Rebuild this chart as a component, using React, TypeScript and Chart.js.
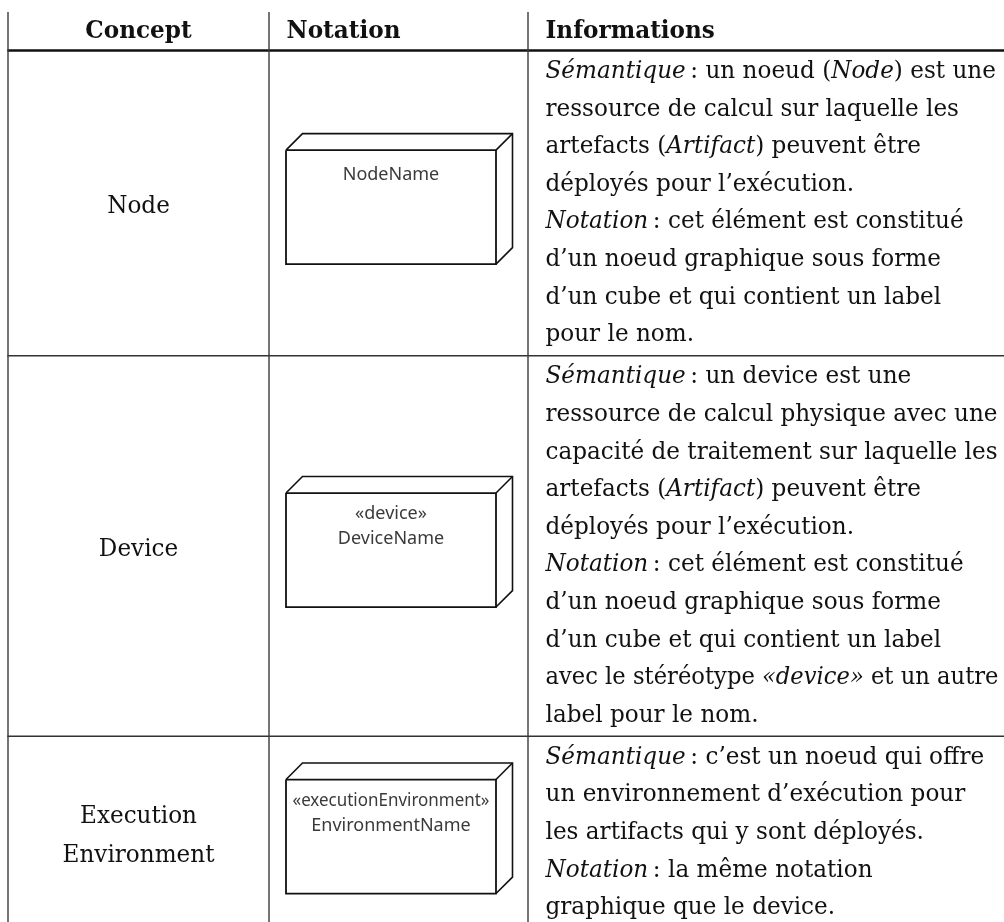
import React, { useEffect, useRef } from "react";
import { Chart, registerables } from "chart.js";

Chart.register(...registerables);

// ---------- data ----------
const headers = ["Concept", "Notation", "Informations"];
const concepts = [["Node"], ["Device"], ["Execution", "Environment"]];
const notationLabels = [
  ["NodeName"],
  ["«device»", "DeviceName"],
  ["«executionEnvironment»", "EnvironmentName"],
];
const infoNode = [
  "*Sémantique*\u202F: un noeud (*Node*) est une",
  "ressource de calcul sur laquelle les",
  "artefacts (*Artifact*) peuvent être",
  "déployés pour l’exécution.",
  "*Notation*\u202F: cet élément est constitué",
  "d’un noeud graphique sous forme",
  "d’un cube et qui contient un label",
  "pour le nom.",
];
const infoDevice = [
  "*Sémantique*\u202F: un device est une",
  "ressource de calcul physique avec une",
  "capacité de traitement sur laquelle les",
  "artefacts (*Artifact*) peuvent être",
  "déployés pour l’exécution.",
  "*Notation*\u202F: cet élément est constitué",
  "d’un noeud graphique sous forme",
  "d’un cube et qui contient un label",
  "avec le stéréotype *«device»* et un autre",
  "label pour le nom.",
];
const infoExec = [
  "*Sémantique*\u202F: c’est un noeud qui offre",
  "un environnement d’exécution pour",
  "les artifacts qui y sont déployés.",
  "*Notation*\u202F: la même notation",
  "graphique que le device.",
];
const infoRows = [infoNode, infoDevice, infoExec];

// ---------- layout ----------
const W = 1004;
const H = 922;
const colEdges = [8, 269, 528];
const tableTop = 12;
const headerRule = 50.5;
const lineH = 37.6;
const firstBase = 27.5;
const rowPad = 4.5;
const textPadL = 17.5;
const bodySize = 25;
const refLine = "ressource de calcul physique avec une";
const refWidth = 452;
const maxInfoWidth = 453;
const serif = '"DejaVu Serif"';
const sans = '"Noto Sans"';

const rows = (() => {
  let y = headerRule;
  return infoRows.map((lines) => {
    const top = y;
    const bottom = y + lines.length * lineH + rowPad;
    y = bottom;
    return { top, bottom, center: (top + bottom) / 2 };
  });
})();

const cube = { left: 286, width: 210, height: 114, depth: 16.5, offset: -53 };

function seg(points: { x: number; y: number }[], width: number, color: string) {
  return {
    type: "scatter" as const,
    data: points,
    showLine: true,
    borderColor: color,
    backgroundColor: color,
    borderWidth: width,
    pointRadius: 0,
    pointHoverRadius: 0,
    tension: 0,
    borderCapStyle: "butt" as const,
    borderJoinStyle: "miter" as const,
  };
}

function buildDatasets() {
  const ds: any[] = [];
  colEdges.forEach((x) => ds.push(seg([{ x, y: tableTop }, { x, y: H }], 1.4, "#3a3a3a")));
  ds.push(seg([{ x: colEdges[0] - 0.7, y: headerRule }, { x: W, y: headerRule }], 2.6, "#111"));
  rows.slice(0, -1).forEach((r) =>
    ds.push(seg([{ x: colEdges[0] - 0.7, y: r.bottom }, { x: W, y: r.bottom }], 1.6, "#333"))
  );
  rows.forEach((r) => {
    const L = cube.left;
    const R = L + cube.width;
    const T = r.center + cube.offset;
    const B = T + cube.height;
    const d = cube.depth;
    const c = "#111";
    ds.push(seg([{ x: L, y: T }, { x: R, y: T }, { x: R, y: B }, { x: L, y: B }, { x: L, y: T }], 1.8, c));
    ds.push(seg([{ x: L, y: T }, { x: L + d, y: T - d }, { x: R + d, y: T - d }, { x: R + d, y: B - d }, { x: R, y: B }], 1.6, c));
    ds.push(seg([{ x: R, y: T }, { x: R + d, y: T - d }], 1.6, c));
  });
  return ds;
}

function parseSegments(line: string) {
  return line.split("*").map((t, i) => ({ text: t, italic: i % 2 === 1 }));
}

const textPlugin = {
  id: "tableText",
  afterDatasetsDraw(chart: any) {
    const ctx: CanvasRenderingContext2D = chart.ctx;
    const xs = chart.scales.x;
    const ys = chart.scales.y;
    const px = (v: number) => xs.getPixelForValue(v);
    const py = (v: number) => ys.getPixelForValue(v);

    ctx.save();
    ctx.font = `${bodySize}px ${serif}`;
    const sx = refWidth / ctx.measureText(refLine).width;
    ctx.fillStyle = "#111";
    ctx.textBaseline = "alphabetic";
    ctx.textAlign = "left";

    const fontFor = (italic: boolean, bold: boolean) =>
      `${italic ? "italic " : ""}${bold ? "bold " : ""}${bodySize}px ${serif}`;
    const widthOf = (line: string, bold = false) => {
      let w = 0;
      parseSegments(line).forEach((s) => {
        ctx.font = fontFor(s.italic, bold);
        w += ctx.measureText(s.text).width;
      });
      return w;
    };
    const drawLine = (line: string, x: number, y: number, bold = false, maxW = Infinity) => {
      const raw = widthOf(line, bold);
      const k = raw * sx > maxW ? maxW / raw : sx;
      ctx.save();
      ctx.translate(x, y);
      ctx.scale(k, 1);
      let cx = 0;
      parseSegments(line).forEach((s) => {
        ctx.font = fontFor(s.italic, bold);
        ctx.fillText(s.text, cx, 0);
        cx += ctx.measureText(s.text).width;
      });
      ctx.restore();
    };
    const drawCentered = (line: string, cx: number, y: number, bold = false) => {
      const w = widthOf(line, bold) * sx;
      drawLine(line, cx - w / 2, y, bold);
    };

    // headers
    const hBase = 38;
    drawCentered(headers[0], px((colEdges[0] + colEdges[1]) / 2), py(hBase), true);
    drawLine(headers[1], px(colEdges[1] + textPadL), py(hBase), true);
    drawLine(headers[2], px(colEdges[2] + textPadL), py(hBase), true);

    // body
    const capHalf = 9.5;
    rows.forEach((r, i) => {
      const c = concepts[i];
      c.forEach((t, k) => {
        const base = r.center - ((c.length - 1) / 2) * 39 + capHalf + k * 39;
        drawCentered(t, px((colEdges[0] + colEdges[1]) / 2), py(base));
      });
      infoRows[i].forEach((line, k) => {
        drawLine(line, px(colEdges[2] + textPadL), py(r.top + firstBase + k * lineH), false, maxInfoWidth);
      });
      // notation labels
      ctx.font = `18px ${sans}`;
      ctx.fillStyle = "#3a3a3a";
      ctx.textAlign = "center";
      const T = r.center + cube.offset;
      notationLabels[i].forEach((t, k) => {
        const base = T + (notationLabels[i].length === 1 ? 30 : 26) + k * 25;
        ctx.fillText(t, px(cube.left + cube.width / 2), py(base), 197);
      });
      ctx.textAlign = "left";
      ctx.fillStyle = "#111";
    });
    ctx.restore();
  },
};

export default function App() {
  const ref = useRef<HTMLCanvasElement | null>(null);
  useEffect(() => {
    if (!ref.current) return;
    const chart = new Chart(ref.current, {
      type: "scatter",
      data: { datasets: buildDatasets() },
      options: {
        animation: false,
        responsive: false,
        devicePixelRatio: 1,
        layout: { padding: 0 },
        events: [],
        plugins: { legend: { display: false }, tooltip: { enabled: false } },
        scales: {
          x: { type: "linear", min: 0, max: W, display: false },
          y: { type: "linear", min: 0, max: H, reverse: true, display: false },
        },
      },
      plugins: [textPlugin],
    });
    return () => chart.destroy();
  }, []);
  return (
    <div style={{ position: "fixed", left: 0, top: 0, width: W, height: H, background: "#fff" }}>
      <canvas ref={ref} width={W} height={H} style={{ width: W, height: H, display: "block" }} />
    </div>
  );
}
